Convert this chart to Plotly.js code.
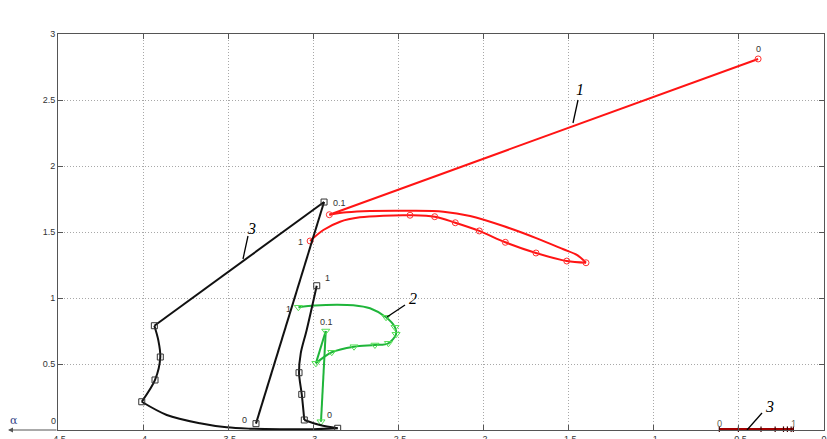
<!DOCTYPE html>
<html><head><meta charset="utf-8">
<script src="https://cdn.plot.ly/plotly-3.0.1.min.js"></script>
<style>html,body{margin:0;padding:0;background:#fff}#chart{width:827px;height:439px}</style>
</head><body><div id="chart"></div>
<script>
// tick labels
const xTicks = [-4.5,-4,-3.5,-3,-2.5,-2,-1.5,-1,-0.5,0];
const xTickText = ['-4.5','-4','-3.5','-3','-2.5','-2','-1.5','-1','-0.5','0'];
const yTicks = [0.5,1,1.5,2,2.5,3];
const yTickText = ['0.5','1','1.5','2','2.5','3'];

// curve 1 (red)
const redX = [-0.387,-2.906,-2.804,-2.667,-2.432,-2.236,-2.079,-1.884,-1.687,-1.531,-1.452,-1.398,
              -1.511,-1.692,-1.872,-2.025,-2.166,-2.287,-2.432,-2.589,-2.726,-2.843,-2.941,-3.019];
const redY = [2.811,1.631,1.649,1.659,1.661,1.654,1.621,1.545,1.452,1.369,1.326,1.267,
              1.280,1.341,1.422,1.508,1.570,1.616,1.627,1.624,1.611,1.578,1.515,1.432];
const redMarkX = [-0.387,-2.906,-1.398,-1.511,-1.692,-1.872,-2.025,-2.166,-2.287,-2.432,-3.019];
const redMarkY = [2.811,1.631,1.267,1.280,1.341,1.422,1.508,1.570,1.616,1.627,1.432];

// curve 2 (green)
const greenX = [-2.955,-2.927,-2.985,-2.892,-2.761,-2.638,-2.559,-2.514,-2.520,-2.573,-2.667,-2.765,-2.863,-2.990,-3.088];
const greenY = [0.063,0.750,0.505,0.589,0.631,0.644,0.657,0.725,0.778,0.854,0.922,0.945,0.949,0.943,0.930];
const greenMarkX = [-2.955,-2.927,-2.985,-2.892,-2.761,-2.638,-2.559,-2.514,-2.520,-2.573,-3.088];
const greenMarkY = [0.063,0.750,0.505,0.589,0.631,0.644,0.657,0.725,0.778,0.854,0.930];

// curve 3 (black)
const blackX = [-3.337,-2.937,-3.934,-3.911,-3.899,-3.930,-4.008,-3.861,-3.666,-3.509,-3.372,-3.196,-3.000,-2.857,
                -2.961,-3.053,-3.068,-3.084,-3.074,-3.039,-2.980];
const blackY = [0.048,1.727,0.790,0.682,0.553,0.379,0.214,0.114,0.051,0.020,0.010,0.006,0.006,0.013,
                0.038,0.076,0.270,0.434,0.581,0.758,1.093];
const blackMarkX = [-3.337,-2.937,-3.934,-3.899,-3.930,-4.008,-2.857,-3.053,-3.068,-3.084,-2.980];
const blackMarkY = [0.048,1.727,0.790,0.553,0.379,0.214,0.013,0.076,0.270,0.434,1.093];

// curve 3 (dark red, on the axis)
const dredX = [-0.615,-0.503,-0.370,-0.287,-0.238,-0.215,-0.193,-0.180];
const dredY = [0.006,0.006,0.006,0.006,0.006,0.006,0.006,0.006];

// helpers for placing text labels (pixel -> data / paper)
const PX = px => -4.5 + (px - 58) / 766 * 4.5;
const PY = py => (430 - py) / 396 * 3;
const QX = px => (px - 58) / 766;
const QY = py => (430 - py) / 396;

// a curve drawn piecewise: straight pieces and smooth pieces, all taken from the arrays
function pieces(xs, ys, cuts, color, width) {
  return cuts.map(([a, b, smooth]) => ({
    x: xs.slice(a, b + 1), y: ys.slice(a, b + 1), mode: 'lines',
    line: {color: color, width: width, shape: smooth ? 'spline' : 'linear', smoothing: 0.9}
  }));
}

const traces = [
  ...pieces(redX, redY, [[0, 1, false], [1, 11, true], [11, 23, true]], '#ff1414', 2),
  {x: redMarkX, y: redMarkY, mode: 'markers', marker: {symbol: 'circle-open', size: 6, color: '#ff3030', line: {width: 1}}},
  ...pieces(greenX, greenY, [[0, 1, false], [1, 2, false], [2, 14, true]], '#1fb53a', 2),
  {x: greenMarkX, y: greenMarkY, mode: 'markers', marker: {symbol: 'triangle-down-open', size: 7, color: '#55e055', line: {width: 1}}},
  ...pieces(blackX, blackY, [[0, 1, false], [1, 2, false], [2, 6, true], [6, 13, true], [13, 15, true], [15, 20, true]], '#111', 2),
  {x: blackMarkX, y: blackMarkY, mode: 'markers', marker: {symbol: 'square-open', size: 6, color: '#333', line: {width: 1}}},
  {x: dredX, y: dredY, mode: 'lines+markers', line: {color: '#a00000', width: 2.2},
   marker: {symbol: 'line-ns-open', size: 4, color: '#440000', line: {width: 1.2}}, cliponaxis: false}
];

const small = {size: 9, color: '#333', family: 'Liberation Sans, Arial, sans-serif'};
const ital = {size: 16, color: '#000', family: 'Liberation Serif, Times New Roman, serif', style: 'italic'};
const lab = (px, py, t, f) => ({x: PX(px), y: PY(py), xref: 'x', yref: 'y', text: t, showarrow: false,
  xanchor: 'center', yanchor: 'middle', font: f || small});
const plab = (px, py, t, f) => ({x: QX(px), y: QY(py), xref: 'paper', yref: 'paper', text: t, showarrow: false,
  xanchor: 'center', yanchor: 'middle', font: f || small});

const annotations = [
  lab(758, 49, '0'), lab(339, 203, '0.1'), lab(300, 242, '1'),
  lab(244, 420, '0'), lab(327, 278, '1'),
  lab(326, 322, '0.1'), lab(329, 415, '0'), lab(288, 309, '1'),
  lab(719, 423, '0', {size: 9, color: '#554'}), lab(793, 423, '1', {size: 9, color: '#554'}),
  plab(53, 421, '0'),
  lab(580, 89, '<i>1</i>', ital), lab(413, 298, '<i>2</i>', ital),
  lab(251, 228, '<i>3</i>', ital), lab(769, 406, '<i>3</i>', ital),
  plab(14, 420, 'α', {size: 11, color: '#334488', family: 'DejaVu Serif, serif'}),
  {x: QX(8), y: 0, xref: 'paper', yref: 'paper', text: '', showarrow: true, ax: 50, ay: 0,
   arrowhead: 2, arrowsize: 1, arrowwidth: 1, arrowcolor: '#555'}
];

const seg = (x0, y0, x1, y1) => ({type: 'line', xref: 'x', yref: 'y', x0: PX(x0), y0: PY(y0), x1: PX(x1), y1: PY(y1),
  line: {color: '#000', width: 1.3}});
const shapes = [
  seg(578, 100, 573, 123), seg(405, 305, 387, 317), seg(248, 236, 243, 259), seg(762, 413, 747, 430)
];

const axisCommon = {
  showline: true, linecolor: '#555', linewidth: 1, mirror: 'ticks',
  ticks: 'inside', ticklen: 5, tickcolor: '#555',
  showgrid: true, gridcolor: '#a8a8a8', griddash: '1px,2px', gridwidth: 1,
  zeroline: false, tickfont: small, fixedrange: true
};

const layout = {
  width: 827, height: 439,
  margin: {l: 58, r: 3, t: 34, b: 9, pad: 0},
  paper_bgcolor: '#fff', plot_bgcolor: '#fff',
  showlegend: false,
  xaxis: Object.assign({}, axisCommon, {range: [-4.5, 0], tickvals: xTicks, ticktext: xTickText}),
  yaxis: Object.assign({}, axisCommon, {range: [0, 3], tickvals: yTicks, ticktext: yTickText}),
  annotations: annotations,
  shapes: shapes
};

Plotly.newPlot('chart', traces, layout, {displayModeBar: false, staticPlot: true});
</script>
</body></html>
